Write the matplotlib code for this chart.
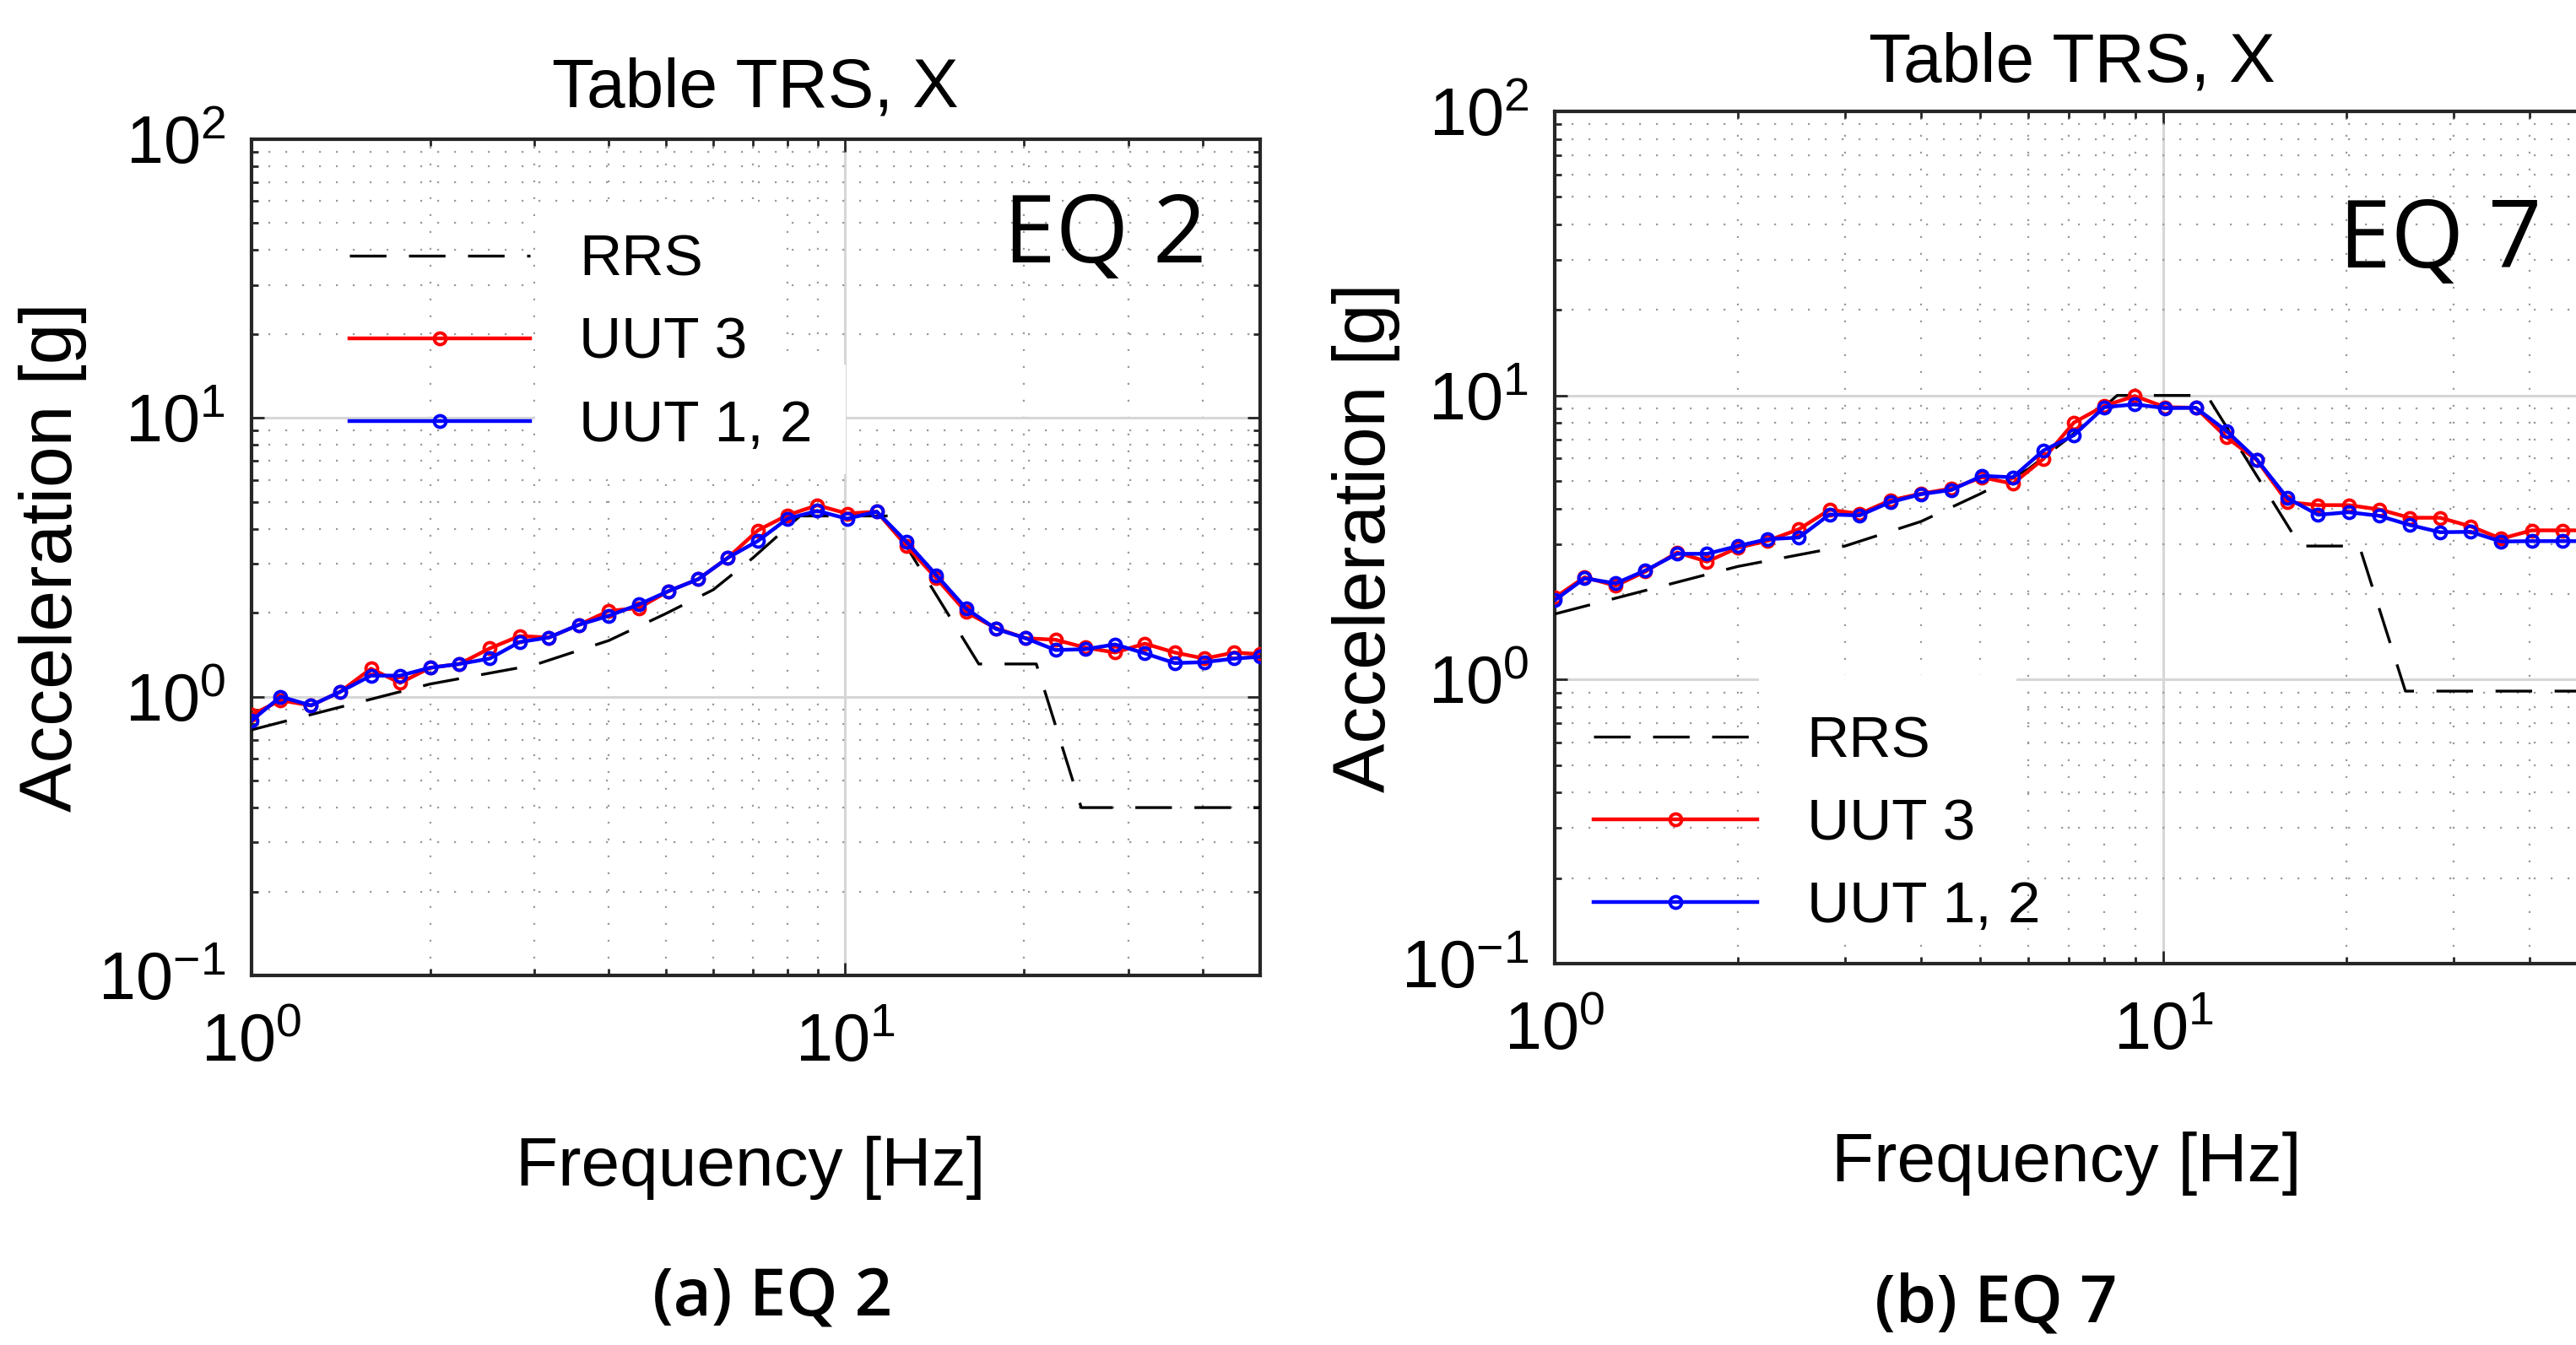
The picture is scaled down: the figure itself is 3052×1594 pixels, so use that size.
import numpy as np
import matplotlib
matplotlib.use("Agg")
import matplotlib.pyplot as plt
from matplotlib.patches import Rectangle
from matplotlib.ticker import LogLocator, FuncFormatter, NullFormatter

plt.rcParams['font.family'] = ['Liberation Sans', 'DejaVu Sans']
plt.rcParams['mathtext.fontset'] = 'custom'
plt.rcParams['mathtext.rm'] = 'Liberation Sans'
plt.rcParams['mathtext.it'] = 'Liberation Sans'
plt.rcParams['mathtext.default'] = 'rm'

# 1/6-octave frequencies of the test response spectra [Hz]
freq = [1.0, 1.12, 1.26, 1.41, 1.59, 1.78, 2.0, 2.24, 2.52, 2.83, 3.17, 3.56,
        4.0, 4.49, 5.04, 5.66, 6.35, 7.13, 8.0, 8.98, 10.08, 11.31, 12.7, 14.25,
        16.0, 17.96, 20.16, 22.63, 25.4, 28.51, 32.0, 35.92, 40.32, 45.25, 50.0]

# EQ 2
eq2_uut3 = [0.86, 0.97, 0.93, 1.04, 1.26, 1.12, 1.27, 1.31, 1.49, 1.65, 1.63, 1.81,
            2.03, 2.08, 2.39, 2.64, 3.15, 3.95, 4.48, 4.86, 4.54, 4.61, 3.47, 2.66,
            2.01, 1.76, 1.62, 1.60, 1.50, 1.44, 1.55, 1.44, 1.37, 1.44, 1.42]
eq2_uut12 = [0.82, 1.00, 0.93, 1.04, 1.19, 1.19, 1.27, 1.31, 1.37, 1.57, 1.63, 1.81,
             1.95, 2.14, 2.39, 2.64, 3.15, 3.62, 4.35, 4.64, 4.35, 4.61, 3.59, 2.73,
             2.07, 1.75, 1.62, 1.47, 1.48, 1.54, 1.43, 1.32, 1.33, 1.37, 1.39]

# EQ 7
eq7_uut3 = [1.94, 2.29, 2.14, 2.40, 2.80, 2.60, 2.91, 3.08, 3.38, 3.96, 3.83, 4.27,
            4.51, 4.70, 5.15, 4.89, 5.97, 8.02, 9.19, 9.95, 9.09, 9.05, 7.13, 5.92,
            4.21, 4.11, 4.11, 3.97, 3.71, 3.71, 3.46, 3.13, 3.35, 3.35, 3.35]
eq7_uut12 = [1.90, 2.27, 2.18, 2.42, 2.77, 2.77, 2.95, 3.12, 3.16, 3.81, 3.78, 4.21,
             4.49, 4.65, 5.21, 5.15, 6.39, 7.24, 9.09, 9.30, 9.02, 9.05, 7.50, 5.95,
             4.35, 3.80, 3.88, 3.77, 3.50, 3.30, 3.31, 3.06, 3.07, 3.07, 3.07]

# required response spectra (corner points)
rrs_freq = [1.0, 2.0, 3.0, 4.0, 5.0, 6.0, 7.0, 8.4, 11.8, 16.8, 21.0, 25.0, 50.0]
eq2_rrs = [0.76, 1.11, 1.30, 1.59, 1.99, 2.42, 3.15, 4.45, 4.45, 1.31, 1.31, 0.40, 0.40]
eq7_rrs = [1.70, 2.50, 2.95, 3.60, 4.50, 5.50, 7.10, 10.0, 10.0, 2.95, 2.95, 0.91, 0.91]

eq_font = ['Open Sans', 'DejaVu Sans']


def decade_label(v, pos):
    return r'$\mathrm{10^{%d}}$' % int(round(np.log10(v)))


def draw_panel(ax, uut3, uut12, rrs, tag, tag_xy, leg_xy, hlen, white_boxes,
               ylab_x, xlab_y, title_y):
    ax.set_xscale('log')
    ax.set_yscale('log')
    ax.set_xlim(1, 50)
    ax.set_ylim(0.1, 100)

    ax.plot(rrs_freq, rrs, color='k', lw=2.4, linestyle=(0, (13, 8)), label='RRS', zorder=3)
    ax.plot(freq, uut3, color='#ff0000', lw=3.2, marker='o', ms=10, mfc='none', mew=2.8,
            label='UUT 3', zorder=4)
    ax.plot(freq, uut12, color='#0000ff', lw=3.2, marker='o', ms=10, mfc='none', mew=2.8,
            label='UUT 1, 2', zorder=5)

    # white patches behind the legend text (they hide the grid there)
    for x0, y0, w, h in white_boxes:
        ax.add_patch(Rectangle((x0, y0), w, h, transform=ax.transAxes, facecolor='white',
                               edgecolor='none', zorder=1))

    ax.set_axisbelow(True)
    ax.xaxis.set_major_locator(LogLocator(base=10, numticks=10))
    ax.yaxis.set_major_locator(LogLocator(base=10, numticks=10))
    ax.xaxis.set_minor_locator(LogLocator(base=10, subs=np.arange(2, 10), numticks=20))
    ax.yaxis.set_minor_locator(LogLocator(base=10, subs=np.arange(2, 10), numticks=20))
    ax.xaxis.set_major_formatter(FuncFormatter(decade_label))
    ax.yaxis.set_major_formatter(FuncFormatter(decade_label))
    ax.xaxis.set_minor_formatter(NullFormatter())
    ax.yaxis.set_minor_formatter(NullFormatter())
    ax.grid(True, which='major', color='#d6d6d6', linewidth=2.2, linestyle='-')
    ax.grid(True, which='minor', color='#9a9a9a', linewidth=1.6, linestyle=(0, (1, 8)))

    ax.tick_params(which='both', direction='in', top=True, right=True, width=2,
                   color='#262626', labelsize=57)
    ax.tick_params(which='major', length=11)
    ax.tick_params(which='minor', length=6)
    ax.tick_params(axis='x', pad=32)
    ax.tick_params(axis='y', pad=22)
    for sp in ax.spines.values():
        sp.set_linewidth(3)
        sp.set_color('#262626')

    ax.set_title('Table TRS, X', fontsize=59, y=title_y, pad=0, va='baseline')
    ax.set_xlabel('Frequency [Hz]', fontsize=59, va='baseline')
    ax.xaxis.set_label_coords(0.495, xlab_y)
    ax.set_ylabel('Acceleration [g]', fontsize=63, va='center')
    ax.yaxis.set_label_coords(ylab_x, 0.5)

    ax.text(tag_xy[0], tag_xy[1], tag, transform=ax.transAxes, ha='right', va='baseline',
            fontsize=80, family=eq_font)

    ax.legend(loc='upper left', bbox_to_anchor=leg_xy, frameon=False, borderpad=0,
              borderaxespad=0, handlelength=hlen, handletextpad=0.84, labelspacing=0.49,
              prop={'size': 50})


fig = plt.figure(figsize=(30.52, 15.94), dpi=100)
ax1 = fig.add_axes([0.0976, 0.2748, 0.3915, 0.6217])
ax2 = fig.add_axes([0.6035, 0.2836, 0.4014, 0.6336])

draw_panel(ax1, eq2_uut3, eq2_uut12, eq2_rrs, 'EQ 2', (0.947, 0.853), (0.097, 0.887), 3.08,
           [(0.281, 0.599, 0.241, 0.320), (0.522, 0.599, 0.067, 0.132)],
           -0.197, -0.251, 1.039)
draw_panel(ax2, eq7_uut3, eq7_uut12, eq7_rrs, 'EQ 7', (0.955, 0.817), (0.0375, 0.292), 2.8,
           [(0.198, 0.035, 0.249, 0.304)],
           -0.182, -0.256, 1.035)

fig.text(0.2998, 0.022, '(a) EQ 2', ha='center', va='baseline', fontsize=56,
         family=eq_font, weight='semibold')
fig.text(0.7747, 0.017, '(b) EQ 7', ha='center', va='baseline', fontsize=56,
         family=eq_font, weight='semibold')

fig.savefig('out.png', dpi=100, facecolor='white')
